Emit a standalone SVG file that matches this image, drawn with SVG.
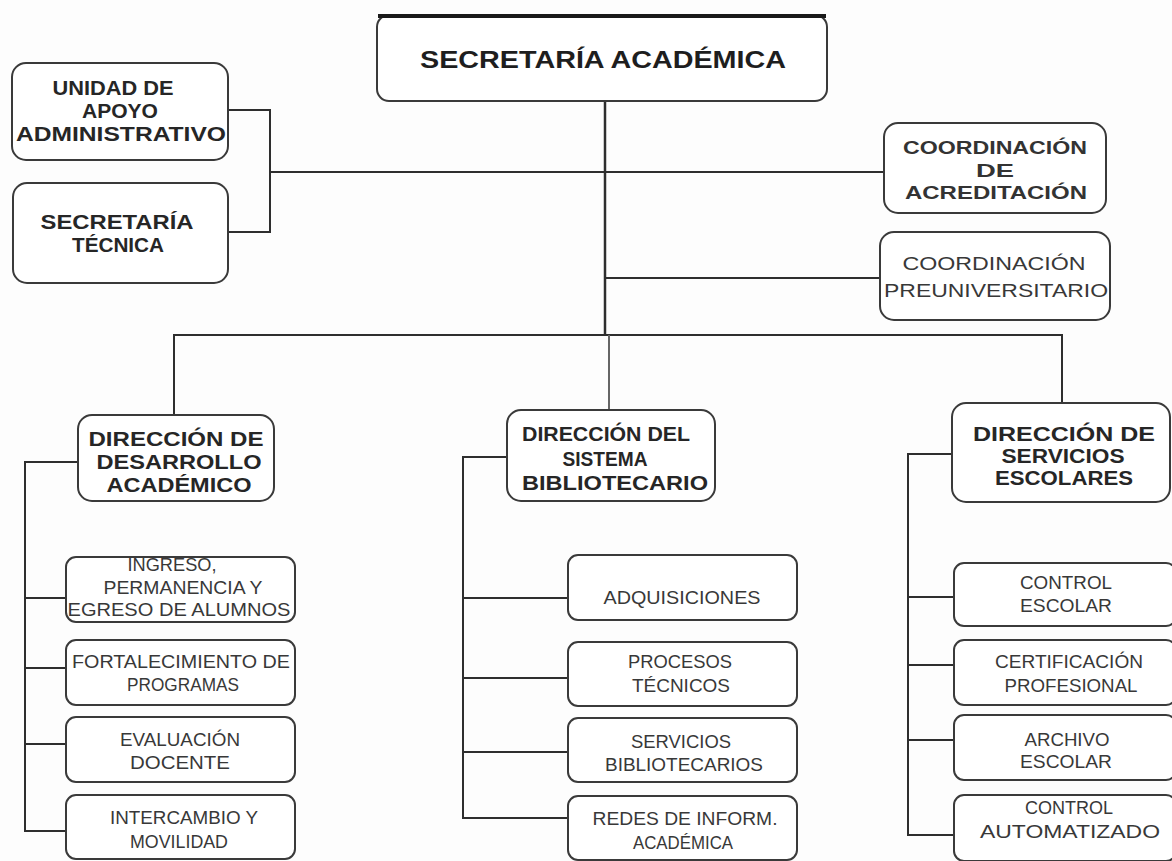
<svg xmlns="http://www.w3.org/2000/svg" width="1172" height="861" viewBox="0 0 1172 861">
<style>
.bx{fill:#ffffff;stroke:#3a3a3a;stroke-width:2}
.ln{fill:none;stroke:#2e2e2e;stroke-width:2}
.hd{font-family:"Liberation Sans",Arial,sans-serif;font-weight:bold;font-size:20px;fill:#262626;text-anchor:middle}
.sb{font-family:"Liberation Sans",Arial,sans-serif;font-size:18px;fill:#383838;text-anchor:middle}
.cd{font-family:"Liberation Sans",Arial,sans-serif;font-weight:bold;font-size:18px;fill:#333333;text-anchor:middle}
.tp{font-family:"Liberation Sans",Arial,sans-serif;font-weight:bold;font-size:24px;fill:#1e1e1e;text-anchor:middle}
</style>
<rect width="1172" height="861" fill="#fdfdfd"/>
<g id="connectors">
<path class="ln" d="M605 101 V335" style="stroke-width:2.5"/>
<path class="ln" d="M270 172 H884"/>
<path class="ln" d="M228 110 H270 V232 H228"/>
<path class="ln" d="M605 278 H880"/>
<path class="ln" d="M174 415 V335 H1062 V403"/>
<path class="ln" d="M609 335 V410" style="stroke:#666"/>
<path class="ln" d="M78 462 H25 V831 H66 M25 598 H66 M25 668 H66 M25 744 H66"/>
<path class="ln" d="M507 457 H463 V818 H568 M463 598 H568 M463 678 H568 M463 752 H568"/>
<path class="ln" d="M952 454 H908 V835 H954 M908 597 H954 M908 665 H954 M908 740 H954"/>
</g>
<g id="secretaria-academica">
<rect class="bx" x="377" y="15" width="450" height="86" rx="12"/>
<path d="M378 16 H826" stroke="#1a1a1a" stroke-width="4"/>
<text class="tp" x="603" y="68" textLength="366" lengthAdjust="spacingAndGlyphs">SECRETARÍA ACADÉMICA</text>
</g>
<g id="unidad-apoyo">
<rect class="bx" x="12" y="63" width="216" height="97" rx="14"/>
<text class="hd" x="113" y="95" textLength="121" lengthAdjust="spacingAndGlyphs">UNIDAD DE</text>
<text class="hd" x="120" y="118" textLength="76" lengthAdjust="spacingAndGlyphs">APOYO</text>
<text class="hd" x="121" y="141" textLength="210" lengthAdjust="spacingAndGlyphs">ADMINISTRATIVO</text>
</g>
<g id="secretaria-tecnica">
<rect class="bx" x="13" y="183" width="215" height="100" rx="14"/>
<text class="hd" x="117" y="229" textLength="153" lengthAdjust="spacingAndGlyphs">SECRETARÍA</text>
<text class="hd" x="118" y="252" textLength="92" lengthAdjust="spacingAndGlyphs">TÉCNICA</text>
</g>
<g id="coord-acreditacion">
<rect class="bx" x="884" y="123" width="222" height="90" rx="14"/>
<text class="cd" x="995" y="154" textLength="184" lengthAdjust="spacingAndGlyphs">COORDINACIÓN</text>
<text class="cd" x="995" y="177" textLength="38" lengthAdjust="spacingAndGlyphs">DE</text>
<text class="cd" x="996" y="199" textLength="182" lengthAdjust="spacingAndGlyphs">ACREDITACIÓN</text>
</g>
<g id="coord-preuniversitario">
<rect class="bx" x="880" y="232" width="230" height="88" rx="14"/>
<text class="sb" x="994" y="270" textLength="183" lengthAdjust="spacingAndGlyphs" style="font-size:19px">COORDINACIÓN</text>
<text class="sb" x="996" y="297" textLength="224" lengthAdjust="spacingAndGlyphs" style="font-size:19px">PREUNIVERSITARIO</text>
</g>
<g id="dir-desarrollo">
<rect class="bx" x="78" y="415" width="196" height="86" rx="14"/>
<text class="hd" x="176" y="446" textLength="175" lengthAdjust="spacingAndGlyphs">DIRECCIÓN DE</text>
<text class="hd" x="179" y="469" textLength="165" lengthAdjust="spacingAndGlyphs">DESARROLLO</text>
<text class="hd" x="179" y="492" textLength="145" lengthAdjust="spacingAndGlyphs">ACADÉMICO</text>
</g>
<g id="dir-sistema">
<rect class="bx" x="507" y="410" width="208" height="91" rx="14"/>
<text class="hd" x="606" y="441" textLength="168" lengthAdjust="spacingAndGlyphs">DIRECCIÓN DEL</text>
<text class="hd" x="605" y="466" textLength="85" lengthAdjust="spacingAndGlyphs">SISTEMA</text>
<text class="hd" x="615" y="490" textLength="186" lengthAdjust="spacingAndGlyphs">BIBLIOTECARIO</text>
</g>
<g id="dir-servicios">
<rect class="bx" x="952" y="403" width="218" height="99" rx="14"/>
<text class="hd" x="1064" y="441" textLength="182" lengthAdjust="spacingAndGlyphs">DIRECCIÓN DE</text>
<text class="hd" x="1063" y="463" textLength="123" lengthAdjust="spacingAndGlyphs">SERVICIOS</text>
<text class="hd" x="1064" y="485" textLength="138" lengthAdjust="spacingAndGlyphs">ESCOLARES</text>
</g>
<g id="ingreso">
<rect class="bx" x="66" y="557" width="229" height="65" rx="10"/>
<text class="sb" x="172" y="571" textLength="89" lengthAdjust="spacingAndGlyphs">INGRESO,</text>
<text class="sb" x="183" y="594" textLength="159" lengthAdjust="spacingAndGlyphs">PERMANENCIA Y</text>
<text class="sb" x="179" y="616" textLength="223" lengthAdjust="spacingAndGlyphs">EGRESO DE ALUMNOS</text>
</g>
<g id="fortalecimiento">
<rect class="bx" x="66" y="640" width="229" height="65" rx="10"/>
<text class="sb" x="181" y="668" textLength="218" lengthAdjust="spacingAndGlyphs">FORTALECIMIENTO DE</text>
<text class="sb" x="183" y="691" textLength="112" lengthAdjust="spacingAndGlyphs">PROGRAMAS</text>
</g>
<g id="evaluacion">
<rect class="bx" x="66" y="717" width="229" height="65" rx="10"/>
<text class="sb" x="180" y="746" textLength="120" lengthAdjust="spacingAndGlyphs">EVALUACIÓN</text>
<text class="sb" x="180" y="769" textLength="100" lengthAdjust="spacingAndGlyphs">DOCENTE</text>
</g>
<g id="intercambio">
<rect class="bx" x="66" y="795" width="229" height="64" rx="10"/>
<text class="sb" x="184" y="824" textLength="148" lengthAdjust="spacingAndGlyphs">INTERCAMBIO Y</text>
<text class="sb" x="179" y="848" textLength="98" lengthAdjust="spacingAndGlyphs">MOVILIDAD</text>
</g>
<g id="adquisiciones">
<rect class="bx" x="568" y="555" width="229" height="65" rx="10"/>
<text class="sb" x="682" y="604" textLength="157" lengthAdjust="spacingAndGlyphs">ADQUISICIONES</text>
</g>
<g id="procesos">
<rect class="bx" x="568" y="642" width="229" height="64" rx="10"/>
<text class="sb" x="680" y="668" textLength="104" lengthAdjust="spacingAndGlyphs">PROCESOS</text>
<text class="sb" x="681" y="692" textLength="98" lengthAdjust="spacingAndGlyphs">TÉCNICOS</text>
</g>
<g id="servicios-bib">
<rect class="bx" x="568" y="718" width="229" height="64" rx="10"/>
<text class="sb" x="681" y="748" textLength="100" lengthAdjust="spacingAndGlyphs">SERVICIOS</text>
<text class="sb" x="684" y="771" textLength="158" lengthAdjust="spacingAndGlyphs">BIBLIOTECARIOS</text>
</g>
<g id="redes">
<rect class="bx" x="568" y="796" width="229" height="64" rx="10"/>
<text class="sb" x="685" y="825" textLength="185" lengthAdjust="spacingAndGlyphs">REDES DE INFORM.</text>
<text class="sb" x="683" y="849" textLength="100" lengthAdjust="spacingAndGlyphs">ACADÉMICA</text>
</g>
<g id="control-escolar">
<rect class="bx" x="954" y="563" width="222" height="63" rx="10"/>
<text class="sb" x="1066" y="589" textLength="92" lengthAdjust="spacingAndGlyphs">CONTROL</text>
<text class="sb" x="1066" y="612" textLength="92" lengthAdjust="spacingAndGlyphs">ESCOLAR</text>
</g>
<g id="certificacion">
<rect class="bx" x="954" y="640" width="222" height="65" rx="10"/>
<text class="sb" x="1069" y="668" textLength="148" lengthAdjust="spacingAndGlyphs">CERTIFICACIÓN</text>
<text class="sb" x="1071" y="692" textLength="133" lengthAdjust="spacingAndGlyphs">PROFESIONAL</text>
</g>
<g id="archivo">
<rect class="bx" x="954" y="715" width="222" height="65" rx="10"/>
<text class="sb" x="1067" y="746" textLength="85" lengthAdjust="spacingAndGlyphs">ARCHIVO</text>
<text class="sb" x="1066" y="768" textLength="92" lengthAdjust="spacingAndGlyphs">ESCOLAR</text>
</g>
<g id="control-automatizado">
<rect class="bx" x="954" y="795" width="222" height="66" rx="10"/>
<text class="sb" x="1069" y="814" textLength="88" lengthAdjust="spacingAndGlyphs">CONTROL</text>
<text class="sb" x="1070" y="838" textLength="180" lengthAdjust="spacingAndGlyphs">AUTOMATIZADO</text>
</g>
</svg>
